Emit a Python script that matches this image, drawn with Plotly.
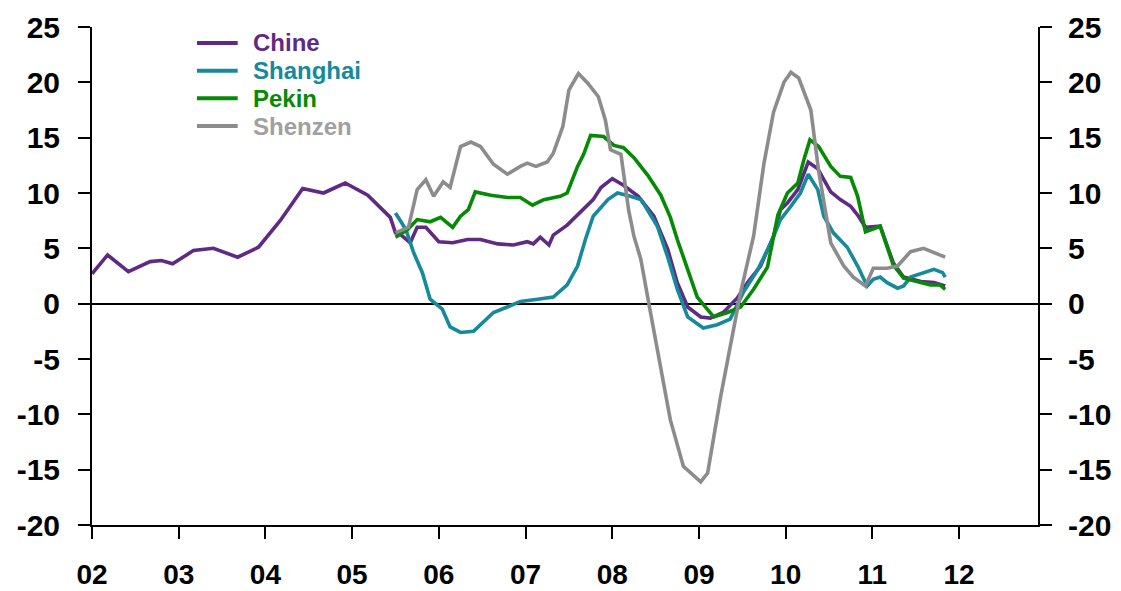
import plotly.graph_objects as go

# Year-on-year price change (%), decimal-year dates
chine_x = [2002.00, 2002.18, 2002.42, 2002.67, 2002.80, 2002.93, 2003.17, 2003.40, 2003.68, 2003.92,
           2004.17, 2004.43, 2004.67, 2004.92, 2005.18, 2005.33, 2005.44, 2005.50, 2005.55, 2005.67,
           2005.75, 2005.85, 2006.00, 2006.16, 2006.33, 2006.48, 2006.68, 2006.86, 2007.02, 2007.09,
           2007.17, 2007.27, 2007.32, 2007.48, 2007.63, 2007.78, 2007.87, 2008.00, 2008.13, 2008.30,
           2008.48, 2008.64, 2008.75, 2008.87, 2009.02, 2009.13, 2009.28, 2009.44, 2009.56, 2009.71,
           2009.86, 2009.94, 2010.02, 2010.14, 2010.26, 2010.37, 2010.44, 2010.52, 2010.63, 2010.75,
           2010.84, 2010.92, 2011.09, 2011.24, 2011.36, 2011.56, 2011.71, 2011.84]
chine_y = [2.7, 4.4, 2.9, 3.8, 3.9, 3.6, 4.8, 5.0, 4.2, 5.1,
           7.5, 10.4, 10.0, 10.9, 9.8, 8.6, 7.8, 6.4, 6.3, 5.5,
           6.9, 6.9, 5.6, 5.5, 5.8, 5.8, 5.4, 5.3, 5.6, 5.4,
           6.0, 5.3, 6.2, 7.1, 8.2, 9.4, 10.5, 11.3, 10.7, 9.7,
           7.9, 4.9, 1.9, -0.3, -1.2, -1.3, -0.8, 0.5, 1.9, 3.4,
           6.1, 8.5, 9.1, 10.3, 12.8, 12.2, 11.2, 10.1, 9.4, 8.8,
           7.9, 6.9, 7.0, 3.7, 2.4, 2.0, 1.9, 1.6]

shanghai_x = [2005.50, 2005.62, 2005.71, 2005.81, 2005.90, 2006.04, 2006.13, 2006.25, 2006.40, 2006.52,
              2006.63, 2006.79, 2006.94, 2007.14, 2007.32, 2007.48, 2007.60, 2007.69, 2007.78, 2007.95,
              2008.06, 2008.21, 2008.33, 2008.38, 2008.52, 2008.64, 2008.75, 2008.87, 2009.05, 2009.21,
              2009.36, 2009.51, 2009.68, 2009.83, 2009.94, 2010.06, 2010.17, 2010.26, 2010.37, 2010.44,
              2010.55, 2010.71, 2010.83, 2010.94, 2011.01, 2011.09, 2011.17, 2011.29, 2011.36, 2011.44,
              2011.59, 2011.71, 2011.81, 2011.84]
shanghai_y = [8.2, 6.7, 4.6, 2.8, 0.4, -0.5, -2.1, -2.6, -2.5, -1.6,
              -0.8, -0.3, 0.2, 0.4, 0.6, 1.7, 3.4, 5.8, 7.9, 9.4,
              10.0, 9.7, 9.4, 8.8, 7.0, 4.2, 1.3, -1.2, -2.2, -1.9,
              -1.4, 1.0, 3.1, 5.5, 7.6, 8.8, 10.0, 11.7, 10.3, 7.9,
              6.4, 5.1, 3.4, 1.6, 2.2, 2.4, 1.9, 1.4, 1.6, 2.4,
              2.8, 3.1, 2.8, 2.4]

pekin_x = [2005.50, 2005.64, 2005.75, 2005.90, 2006.02, 2006.16, 2006.25, 2006.34, 2006.42, 2006.60,
           2006.79, 2006.94, 2007.08, 2007.21, 2007.40, 2007.48, 2007.60, 2007.67, 2007.75, 2007.90,
           2008.02, 2008.13, 2008.25, 2008.41, 2008.56, 2008.67, 2008.75, 2008.87, 2008.98, 2009.17,
           2009.33, 2009.48, 2009.63, 2009.79, 2009.91, 2010.02, 2010.14, 2010.21, 2010.28, 2010.38,
           2010.52, 2010.63, 2010.75, 2010.83, 2010.92, 2011.09, 2011.24, 2011.36, 2011.52, 2011.67,
           2011.78, 2011.84]
pekin_y = [6.0, 6.7, 7.6, 7.4, 7.8, 6.9, 7.9, 8.5, 10.1, 9.8,
           9.6, 9.6, 8.9, 9.4, 9.7, 10.0, 12.4, 13.5, 15.2, 15.1,
           14.3, 14.1, 13.2, 11.6, 9.8, 7.8, 5.8, 3.1, 0.6, -1.2,
           -0.8, -0.3, 1.3, 3.3, 8.0, 10.0, 10.9, 13.0, 14.8, 14.2,
           12.4, 11.5, 11.4, 9.7, 6.5, 7.0, 3.5, 2.3, 2.0, 1.7,
           1.7, 1.3]

shenzen_x = [2005.50, 2005.65, 2005.75, 2005.85, 2005.94, 2006.05, 2006.13, 2006.25, 2006.37, 2006.48,
             2006.63, 2006.79, 2006.94, 2007.02, 2007.12, 2007.25, 2007.32, 2007.43, 2007.50, 2007.61,
             2007.72, 2007.84, 2007.92, 2007.98, 2008.10, 2008.19, 2008.25, 2008.33, 2008.42, 2008.52,
             2008.67, 2008.82, 2009.02, 2009.10, 2009.25, 2009.36, 2009.48, 2009.63, 2009.75, 2009.86,
             2009.98, 2010.06, 2010.15, 2010.29, 2010.38, 2010.52, 2010.67, 2010.78, 2010.92, 2011.01,
             2011.17, 2011.29, 2011.44, 2011.59, 2011.71, 2011.84]
shenzen_y = [6.4, 6.9, 10.3, 11.2, 9.7, 11.0, 10.5, 14.2, 14.6, 14.2,
             12.6, 11.7, 12.4, 12.7, 12.4, 12.8, 13.6, 16.0, 19.3, 20.8,
             19.9, 18.7, 16.6, 13.9, 13.5, 8.4, 6.1, 4.0, 0.1, -4.0,
             -10.5, -14.7, -16.1, -15.3, -8.4, -3.9, 1.0, 6.1, 12.7, 17.3,
             20.0, 20.9, 20.4, 17.5, 12.0, 5.5, 3.4, 2.4, 1.6, 3.2,
             3.2, 3.4, 4.7, 5.0, 4.6, 4.2]

series_names = ["Chine", "Shanghai", "Pekin", "Shenzen"]
line_colors = ["#5E2A84", "#16899A", "#058A05", "#8C8C8C"]
label_colors = ["#5E2A84", "#16899A", "#058A05", "#A0A0A0"]
# Shenzen is plotted against the right-hand axis (same scale), so it sits on top
series_axes = ["y", "y", "y", "y2"]

year_ticks = list(range(2002, 2013))
year_labels = ["02", "03", "04", "05", "06", "07", "08", "09", "10", "11", "12"]
y_ticks = [25, 20, 15, 10, 5, 0, -5, -10, -15, -20]
y_labels = [str(v) for v in y_ticks]

FONT = "Liberation Sans, Arial, sans-serif"

fig = go.Figure()
for name, xs, ys, col, ax in zip(series_names,
                                 [chine_x, shanghai_x, pekin_x, shenzen_x],
                                 [chine_y, shanghai_y, pekin_y, shenzen_y],
                                 line_colors, series_axes):
    fig.add_trace(go.Scatter(x=xs, y=ys, mode="lines", name=name, yaxis=ax,
                             line=dict(color=col, width=3.6), showlegend=False))

# Legend drawn as short line keys with coloured labels
legend_y = [0.968, 0.912, 0.857, 0.801]
for name, col, tcol, ly in zip(series_names, line_colors, label_colors, legend_y):
    fig.add_shape(type="line", xref="paper", yref="paper",
                  x0=0.111, x1=0.154, y0=ly, y1=ly,
                  line=dict(color=col, width=4))
    fig.add_annotation(xref="paper", yref="paper", x=0.168, y=ly,
                       text=name, showarrow=False, xanchor="left", yanchor="middle",
                       font=dict(family=FONT, size=24, color=tcol, weight=700))

axis_font = dict(family=FONT, size=30, color="black", weight=700)

fig.update_layout(
    width=1121, height=591,
    margin=dict(l=92, r=83, t=27, b=66, autoexpand=False),
    paper_bgcolor="white", plot_bgcolor="white",
    showlegend=False,
    xaxis=dict(range=[2002, 2012.91], tickvals=year_ticks, ticktext=year_labels,
               ticks="outside", ticklen=12, tickwidth=2, tickcolor="black",
               showline=True, linewidth=2, linecolor="black",
               showgrid=False, zeroline=False, automargin=False,
               tickfont=dict(family=FONT, size=28, color="black", weight=700),
               ticklabelstandoff=11),
    yaxis=dict(range=[-20, 25], tickvals=y_ticks, ticktext=y_labels,
               ticks="outside", ticklen=12, tickwidth=2, tickcolor="black",
               showline=True, linewidth=2, linecolor="black",
               showgrid=False, zeroline=True, zerolinecolor="black", zerolinewidth=2,
               automargin=False, tickfont=axis_font, ticklabelstandoff=12),
    yaxis2=dict(range=[-20, 25], tickvals=y_ticks, ticktext=y_labels,
                overlaying="y", side="right", anchor="x",
                ticks="outside", ticklen=12, tickwidth=2, tickcolor="black",
                showline=True, linewidth=2, linecolor="black",
                showgrid=False, zeroline=False, automargin=False,
                tickfont=axis_font, ticklabelstandoff=10),
)

fig.write_html("out.html")
